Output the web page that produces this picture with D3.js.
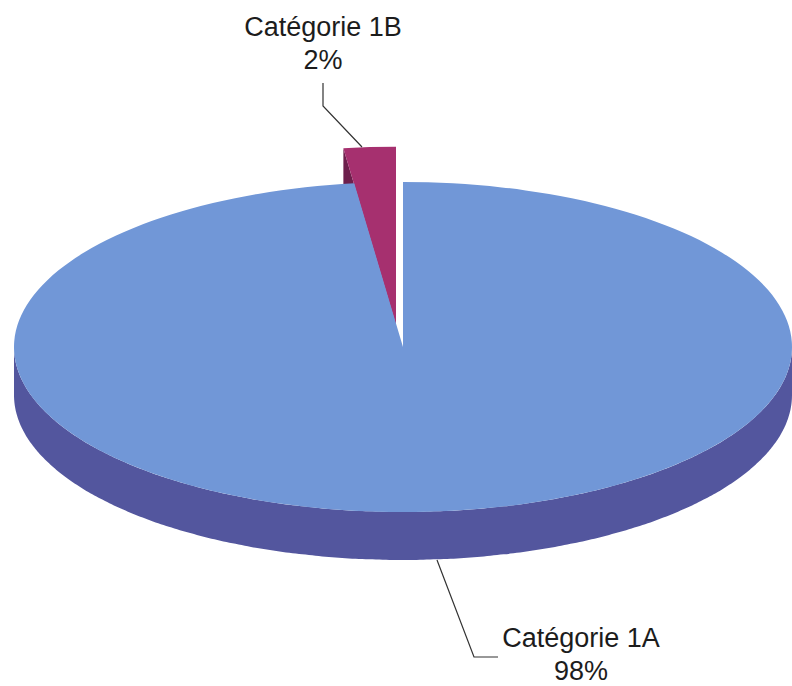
<!DOCTYPE html>
<html>
<head>
<meta charset="utf-8">
<script src="https://cdn.jsdelivr.net/npm/d3@7"></script>
<style>
  html, body { margin: 0; background: #fff; }
  text { font-family: "Liberation Sans", Arial, sans-serif; font-size: 27px; fill: #1c1c1c; }
</style>
</head>
<body>
<svg id="container" width="792" height="686"></svg>
<script>
// pie data
var categories = ['Catégorie 1A', 'Catégorie 1B'];
var shares = [98, 2];

// tilted disc geometry
var width = 792, height = 686;
var cx = 403, cy = 347;
var rx = 389, ry = 165;
var depth = 48;

// pulled out wedge: its own centre, drawn a bit larger since it sits nearer the viewer
var wedgeX = 396, wedgeY = 325, wedgeScale = 1.08;

var topColor = ['#7197d7', '#a6306f'];
var sideColor = ['#53569e', '#6d1f4c'];

var svg = d3.select('#container');

var pie = d3.pie().sort(null);
var slices = pie(shares);

var arc = d3.arc().innerRadius(0).outerRadius(rx);

// point on the rim for a pie angle (0 = up, clockwise)
function rimX(a){ return rx * Math.sin(a); }
function rimY(a){ return -ry * Math.cos(a); }

//side wall of the wedge, drawn first so the disc covers most of it
var wedge = svg.append('g')
    .attr('transform', `translate(${wedgeX}, ${wedgeY}) scale(${wedgeScale})`);

var a0 = slices[1].startAngle;
wedge.append('path')
    .attr('d', d3.line()([
      [0, 0],
      [rimX(a0), rimY(a0)],
      [rimX(a0), rimY(a0) + depth],
      [0, depth]
    ]) + 'Z')
    .attr('fill', sideColor[1]);

//top of the wedge
wedge.append('path')
    .attr('transform', `scale(1, ${ry / rx})`)
    .attr('d', arc(slices[1]))
    .attr('fill', topColor[1]);

var disc = svg.append('g')
    .attr('transform', `translate(${cx}, ${cy})`);

//front wall of the disc, only the lower half of the rim is visible
var rimAngles = d3.range(90, 270.5, 1).map(d => d * Math.PI / 180);
disc.append('path')
    .attr('d', d3.area()
      .x(d => rimX(d))
      .y0(d => rimY(d))
      .y1(d => rimY(d) + depth)
      .curve(d3.curveBasis)(rimAngles))
    .attr('fill', sideColor[0]);

//top of the disc
disc.append('path')
    .attr('transform', `scale(1, ${ry / rx})`)
    .attr('d', arc(slices[0]))
    .attr('fill', topColor[0]);

//leader lines
var leader = d3.line();
svg.append('path')
    .attr('d', leader([[323, 83], [323, 106], [362, 147]]))
    .attr('fill', 'none')
    .attr('stroke', '#333')
    .attr('stroke-width', 1.2);

svg.append('path')
    .attr('d', leader([[437, 560], [474, 657], [498, 657]]))
    .attr('fill', 'none')
    .attr('stroke', '#333')
    .attr('stroke-width', 1.2);

//labels, name on the first line and share below
var labelPos = [[581, 647], [323, 36]];
categories.forEach(function(name, i){
  var label = svg.append('text')
      .attr('text-anchor', 'middle')
      .attr('x', labelPos[i][0])
      .attr('y', labelPos[i][1]);
  label.append('tspan').text(name);
  label.append('tspan')
      .attr('x', labelPos[i][0])
      .attr('dy', 33)
      .text(shares[i] + '%');
});
</script>
</body>
</html>
